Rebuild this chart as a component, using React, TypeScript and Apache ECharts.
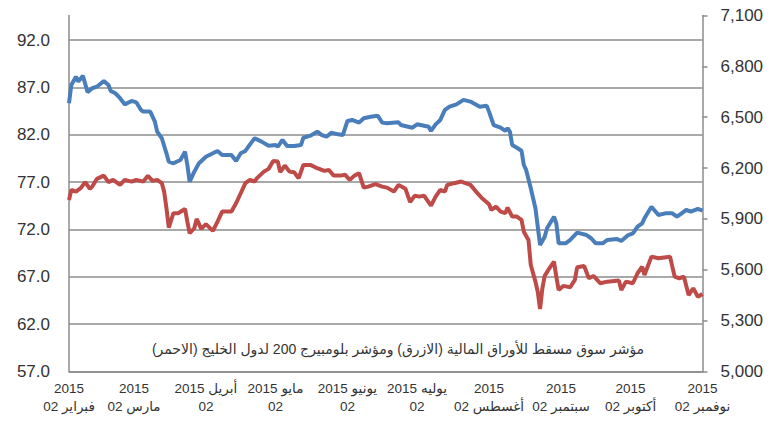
import React, { useEffect, useRef } from "react";
import * as echarts from "echarts";

// MSM index (blue, right axis)
const blueDates = [
  "2015-02-02","2015-02-03","2015-02-05","2015-02-06","2015-02-08","2015-02-10","2015-02-12","2015-02-14","2015-02-17","2015-02-19",
  "2015-02-20","2015-02-22","2015-02-24","2015-02-26","2015-03-01","2015-03-03","2015-03-05","2015-03-06","2015-03-09","2015-03-11",
  "2015-03-12","2015-03-14","2015-03-16","2015-03-17","2015-03-19","2015-03-22","2015-03-24","2015-03-25","2015-03-26","2015-03-28",
  "2015-03-30","2015-04-02","2015-04-05","2015-04-07","2015-04-09","2015-04-13","2015-04-15","2015-04-17","2015-04-19","2015-04-21",
  "2015-04-23","2015-04-26","2015-04-29","2015-05-02","2015-05-03","2015-05-05","2015-05-07","2015-05-10","2015-05-13","2015-05-14",
  "2015-05-17","2015-05-20","2015-05-22","2015-05-24","2015-05-26","2015-05-29","2015-05-31","2015-06-02","2015-06-04","2015-06-07",
  "2015-06-09","2015-06-12","2015-06-15","2015-06-17","2015-06-19","2015-06-24","2015-06-25","2015-06-30","2015-07-02","2015-07-07",
  "2015-07-08","2015-07-10","2015-07-12","2015-07-14","2015-07-16","2015-07-19","2015-07-22","2015-07-25","2015-07-29","2015-08-01",
  "2015-08-02","2015-08-04","2015-08-07","2015-08-09","2015-08-10","2015-08-11","2015-08-12","2015-08-14","2015-08-16","2015-08-17",
  "2015-08-18","2015-08-20","2015-08-22","2015-08-24","2015-08-26","2015-08-27","2015-08-30","2015-08-31","2015-09-01","2015-09-04",
  "2015-09-06","2015-09-09","2015-09-13","2015-09-15","2015-09-17","2015-09-20","2015-09-22","2015-09-26","2015-09-28","2015-10-01",
  "2015-10-03","2015-10-05","2015-10-07","2015-10-08","2015-10-11","2015-10-14","2015-10-17","2015-10-20","2015-10-22","2015-10-24",
  "2015-10-26","2015-10-28","2015-10-31","2015-11-02",
];
const blueValues = [
  6582,6690,6739,6710,6745,6647,6671,6680,6714,6690,
  6655,6641,6612,6576,6596,6588,6543,6533,6533,6474,
  6415,6376,6287,6238,6228,6248,6297,6218,6120,6179,
  6228,6267,6287,6301,6277,6277,6242,6287,6301,6340,
  6376,6356,6332,6336,6326,6366,6330,6330,6336,6379,
  6391,6415,6395,6385,6409,6399,6395,6478,6484,6468,
  6494,6503,6509,6468,6464,6470,6454,6438,6458,6444,
  6419,6458,6484,6543,6562,6576,6602,6592,6562,6568,
  6533,6454,6438,6419,6435,6415,6336,6320,6302,6218,
  6189,6081,5963,5746,5795,5845,5913,5874,5756,5756,
  5776,5819,5805,5786,5756,5756,5776,5782,5770,5805,
  5815,5854,5874,5904,5972,5923,5933,5933,5913,5933,
  5953,5943,5959,5949,
];

// Bloomberg GCC 200 index (red, left axis)
const redDates = [
  "2015-02-02","2015-02-03","2015-02-05","2015-02-07","2015-02-09","2015-02-11","2015-02-12","2015-02-14","2015-02-17","2015-02-19",
  "2015-02-21","2015-02-24","2015-02-26","2015-03-01","2015-03-03","2015-03-06","2015-03-08","2015-03-10","2015-03-12","2015-03-14",
  "2015-03-15","2015-03-16","2015-03-17","2015-03-19","2015-03-21","2015-03-24","2015-03-25","2015-03-26","2015-03-28","2015-03-29",
  "2015-03-31","2015-04-02","2015-04-05","2015-04-07","2015-04-09","2015-04-13","2015-04-15","2015-04-17","2015-04-19","2015-04-21",
  "2015-04-23","2015-04-24","2015-04-27","2015-04-29","2015-05-01","2015-05-03","2015-05-04","2015-05-06","2015-05-08","2015-05-10",
  "2015-05-12","2015-05-14","2015-05-17","2015-05-20","2015-05-23","2015-05-25","2015-05-27","2015-05-30","2015-06-01","2015-06-03",
  "2015-06-05","2015-06-07","2015-06-09","2015-06-11","2015-06-14","2015-06-17","2015-06-19","2015-06-22","2015-06-24","2015-06-27",
  "2015-06-29","2015-07-01","2015-07-03","2015-07-05","2015-07-08","2015-07-10","2015-07-12","2015-07-14","2015-07-15","2015-07-18",
  "2015-07-21","2015-07-25","2015-07-28","2015-07-30","2015-08-02","2015-08-03","2015-08-05","2015-08-07","2015-08-09","2015-08-10",
  "2015-08-12","2015-08-14","2015-08-16","2015-08-17","2015-08-19","2015-08-20","2015-08-22","2015-08-23","2015-08-24","2015-08-25",
  "2015-08-26","2015-08-28","2015-08-30","2015-08-31","2015-09-01","2015-09-03","2015-09-06","2015-09-08","2015-09-09","2015-09-12",
  "2015-09-14","2015-09-16","2015-09-19","2015-09-22","2015-09-27","2015-09-28","2015-09-30","2015-10-03","2015-10-05","2015-10-07",
  "2015-10-08","2015-10-11","2015-10-14","2015-10-19","2015-10-21","2015-10-23","2015-10-25","2015-10-27","2015-10-29","2015-10-31",
  "2015-11-02",
];
const redValues = [
  75.12,76.18,76.0,76.36,77.0,76.29,76.53,77.34,77.69,77.0,
  77.24,76.71,77.24,77.06,77.24,77.06,77.66,77.13,77.24,76.89,
  76.0,74.25,72.2,73.72,73.72,74.17,72.83,71.6,72.13,73.12,
  72.06,72.56,71.85,72.83,73.89,73.89,74.77,75.83,76.89,77.24,
  77.06,77.42,78.11,78.4,79.24,79.17,78.05,78.75,78.11,78.05,
  77.42,78.82,78.82,78.47,78.19,78.29,77.69,77.69,77.77,77.24,
  77.69,77.94,76.42,76.53,76.78,76.53,76.42,76.0,76.71,76.29,
  74.88,75.58,75.47,75.58,74.52,75.47,76.18,76.0,76.71,76.89,
  77.06,76.71,75.83,75.3,74.67,74.07,74.42,73.89,73.72,74.31,
  73.36,73.36,73.01,71.77,70.9,68.25,66.49,65.43,63.6,65.79,
  67.1,67.9,68.6,67.02,65.61,66.04,65.9,66.67,68.01,68.15,
  66.85,67.09,66.32,66.49,66.6,65.61,66.49,66.32,67.38,68.07,
  67.2,69.13,68.96,69.13,67.02,66.85,67.02,65.08,65.79,64.9,
  65.19,
];

// x-axis: monthly label dates and their texts
const startDate = "2015-02-02";
const endDate = "2015-11-02";
const xTickDates = [
  "2015-02-02","2015-03-02","2015-04-02","2015-05-02","2015-06-02",
  "2015-07-02","2015-08-02","2015-09-02","2015-10-02","2015-11-02",
];
const xTickLabels = [
  "2015\n02 فبراير",
  "2015\n02 مارس",
  "أبريل 2015\n02",
  "مايو 2015\n02",
  "يونيو 2015\n02",
  "يوليه 2015\n02",
  "2015\n02 أغسطس",
  "2015\n02 سبتمبر",
  "2015\n02 أكتوبر",
  "2015\n02 نوفمبر",
];
const leftTicks = [57, 62, 67, 72, 77, 82, 87, 92];
const rightTicks = [5000, 5300, 5600, 5900, 6200, 6500, 6800, 7100];
const legendText =
  "\u200Fمؤشر سوق مسقط للأوراق المالية (الازرق) ومؤشر بلومبيرج 200 لدول الخليج (الاحمر)\u200F";

const dayOf = (s: string) => {
  const [y, m, d] = s.split("-").map(Number);
  const [y0, m0, d0] = startDate.split("-").map(Number);
  return Math.round((Date.UTC(y, m - 1, d) - Date.UTC(y0, m0 - 1, d0)) / 86400000);
};

export default function App() {
  const ref = useRef<HTMLDivElement>(null);
  useEffect(() => {
    if (!ref.current) return;
    const chart = echarts.init(ref.current, undefined, { renderer: "svg" });
    const font = '"Liberation Sans", Arial, "DejaVu Sans", sans-serif';
    const tickVals = xTickDates.map(dayOf);
    const grey = "#8c8c8c";
    chart.setOption({
      animation: false,
      backgroundColor: "#ffffff",
      grid: { left: 69, right: 70.5, top: 15.5, bottom: 52.5, containLabel: false },
      xAxis: {
        type: "value",
        min: 0,
        max: dayOf(endDate),
        axisLine: { show: true, lineStyle: { color: grey, width: 1.5 } },
        axisTick: { show: false, customValues: tickVals },
        splitLine: { show: false },
        axisLabel: {
          customValues: tickVals,
          color: "#333",
          fontFamily: font,
          fontSize: 13.5,
          lineHeight: 18,
          margin: 8,
          formatter: (v: number) => {
            const i = tickVals.indexOf(Math.round(v));
            return i >= 0 ? xTickLabels[i] : "";
          },
        },
      },
      yAxis: [
        {
          type: "value",
          position: "left",
          min: 57,
          max: 94.6,
          axisLine: { show: true, lineStyle: { color: grey, width: 1.5 } },
          axisTick: { show: false, customValues: leftTicks },
          splitLine: { show: true, lineStyle: { color: grey, width: 1.5 } },
          axisLabel: {
            customValues: leftTicks,
            color: "#333",
            fontFamily: font,
            fontSize: 17,
            margin: 19,
            formatter: (v: number) => v.toFixed(1),
          },
        },
        {
          type: "value",
          position: "right",
          min: 5000,
          max: 7100,
          axisLine: { show: true, lineStyle: { color: grey, width: 1.5 } },
          axisTick: { show: true, inside: false, length: 5, customValues: rightTicks, lineStyle: { color: grey, width: 1.5 } },
          splitLine: { show: false },
          axisLabel: {
            customValues: rightTicks,
            color: "#333",
            fontFamily: font,
            fontSize: 17,
            margin: 18,
            formatter: (v: number) => v.toLocaleString("en-US"),
          },
        },
      ],
      series: [
        {
          name: "GCC 200",
          type: "line",
          yAxisIndex: 0,
          showSymbol: false,
          symbol: "none",
          lineStyle: { color: "#be4b48", width: 4 },
          data: redDates.map((d, i) => [dayOf(d), redValues[i]]),
        },
        {
          name: "MSM",
          type: "line",
          yAxisIndex: 1,
          showSymbol: false,
          symbol: "none",
          lineStyle: { color: "#4a7ebb", width: 4 },
          data: blueDates.map((d, i) => [dayOf(d), blueValues[i]]),
        },
      ],
      graphic: [
        {
          type: "text",
          x: 398,
          y: 349,
          style: {
            text: legendText,
            fill: "#333",
            fontSize: 14,
            fontFamily: font,
            align: "center",
            verticalAlign: "middle",
          },
        },
      ],
    });
    return () => chart.dispose();
  }, []);
  return (
    <div
      ref={ref}
      style={{ position: "absolute", left: 0, top: 0, width: 773, height: 424 }}
    />
  );
}
